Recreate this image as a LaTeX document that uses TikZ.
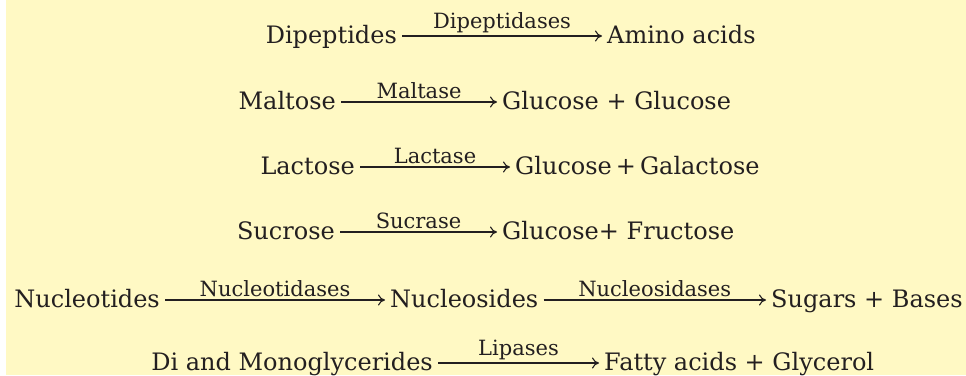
\documentclass[tikz,border=0pt]{standalone}
\usepackage{fontspec}
\setmainfont{DejaVu Serif}
\usepackage{tikz}
\usetikzlibrary{arrows.meta, positioning, calc}
\definecolor{pagebg}{HTML}{FFF9C4}
\definecolor{ink}{HTML}{231F20}

\tikzset{
  substrate/.style={anchor=base east, inner sep=0pt, text=ink, font=\fontsize{24}{27}\selectfont},
  product/.style={anchor=base west, inner sep=0pt, text=ink, font=\fontsize{24}{27}\selectfont},
  enzyme/.style={midway, above, inner sep=3pt, text=ink, font=\fontsize{21}{24}\selectfont},
  react/.style={draw=ink, line width=1.1pt, -{Computer Modern Rightarrow[length=7pt,width=11pt]}, shorten <=5pt, shorten >=5pt}
}

\begin{document}
\begin{tikzpicture}[x=1pt,y=-1pt]
      \useasboundingbox (0,0) rectangle (966,375);
      \fill[pagebg] (6,0) rectangle (966,375);

      % protein digestion
      \node[substrate] (dip) at (397,43) {Dipeptides};
      \node[product] (amino) at (607,43) {Amino acids};
      \draw[react] ([yshift=7pt]dip.base east) -- ([yshift=7pt]amino.base west) node[enzyme] {Dipeptidases};

      % disaccharides
      \node[substrate] (malt) at (336,109) {Maltose};
      \node[product] (glc1) at (502,109) {Glucose + Glucose};
      \draw[react] ([yshift=7pt]malt.base east) -- ([yshift=7pt]glc1.base west) node[enzyme] {Maltase};

      \node[substrate] (lact) at (355,174) {Lactose};
      \node[product] (glc2) at (515,174) {Glucose\,+\,Galactose};
      \draw[react] ([yshift=7pt]lact.base east) -- ([yshift=7pt]glc2.base west) node[enzyme] {Lactase};

      \node[substrate] (sucr) at (335,239) {Sucrose};
      \node[product] (glc3) at (502,239) {Glucose+ Fructose};
      \draw[react] ([yshift=7pt]sucr.base east) -- ([yshift=7pt]glc3.base west) node[enzyme] {Sucrase};

      % nucleic acids
      \node[substrate] (ntide) at (160,307) {Nucleotides};
      \node[product] (nside) at (390,307) {Nucleosides};
      \node[product] (sugar) at (771,307) {Sugars + Bases};
      \draw[react] ([yshift=7pt]ntide.base east) -- ([yshift=7pt]nside.base west) node[enzyme] {Nucleotidases};
      \draw[react] ([yshift=7pt]nside.base east) -- ([yshift=7pt]sugar.base west) node[enzyme] {Nucleosidases};

      % fats
      \node[substrate] (glyc) at (433,370) {Di and Monoglycerides};
      \node[product] (fatty) at (604,370) {Fatty acids + Glycerol};
      \draw[react] ([yshift=7pt]glyc.base east) -- ([yshift=7pt]fatty.base west) node[enzyme] {Lipases};
\end{tikzpicture}
\end{document}
